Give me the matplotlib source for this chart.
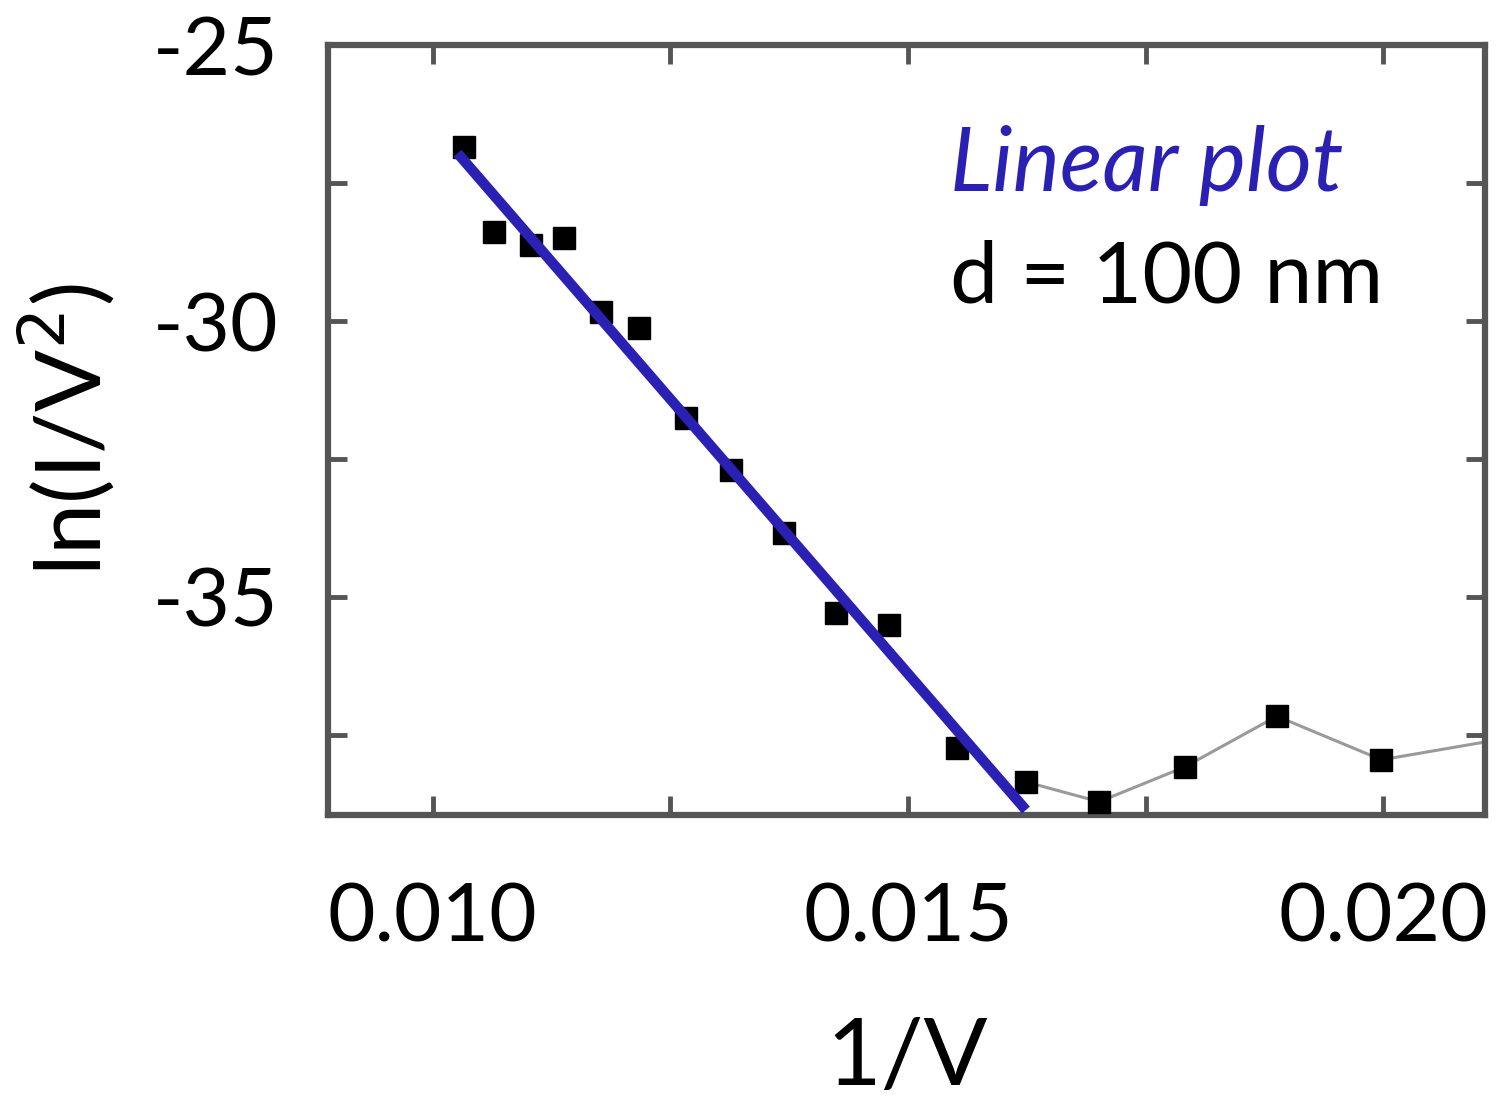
import matplotlib
matplotlib.use("Agg")
import matplotlib.pyplot as plt
from matplotlib.ticker import MultipleLocator

# data
inv_v = [0.01033, 0.01064, 0.01103, 0.01138, 0.01177, 0.01217, 0.01266, 0.01314,
         0.01369, 0.01424, 0.01480, 0.01551, 0.01624, 0.01701, 0.01791, 0.01888,
         0.01998, 0.02150]
ln_iv2 = [-26.85, -28.39, -28.62, -28.50, -29.84, -30.13, -31.76, -32.70,
          -33.84, -35.29, -35.51, -37.74, -38.35, -38.71, -38.08, -37.16,
          -37.95, -37.50]
tail_start = 12  # grey connecting line shown from here on
fit_x = [0.01026, 0.01624]
fit_y = [-26.96, -38.86]
x_ticks = [0.010, 0.015, 0.020]
x_tick_labels = ["0.010", "0.015", "0.020"]
y_ticks = [-25, -30, -35]
y_tick_labels = ["-25", "-30", "-35"]

plt.rcParams['font.family'] = ['Lato', 'DejaVu Sans']

fig = plt.figure(figsize=(14.99, 11.09), dpi=100)
ax = fig.add_axes([0.219, 0.2651, 0.7717, 0.6943])

ax.plot(inv_v[tail_start:], ln_iv2[tail_start:], color='#9a9a9a', lw=2.2, zorder=2)
ax.plot(inv_v, ln_iv2, ls='none', marker='s', ms=16.5, color='black', zorder=3)
ax.plot(fit_x, fit_y, color='#2a20b4', lw=7.5, solid_capstyle='butt', zorder=4)

ax.set_xlim(0.0089, 0.02107)
ax.set_ylim(-38.95, -25.0)

ax.set_xticks(x_ticks)
ax.set_xticklabels(x_tick_labels)
ax.set_yticks(y_ticks)
ax.set_yticklabels(y_tick_labels)
ax.xaxis.set_minor_locator(MultipleLocator(0.0025))
ax.yaxis.set_minor_locator(MultipleLocator(2.5))

ax.tick_params(which='both', direction='in', top=True, right=True,
               color='#555555', width=3.5)
ax.tick_params(which='major', length=14, labelsize=59)
ax.tick_params(which='minor', length=14)
ax.tick_params(axis='x', which='major', pad=48)
ax.tick_params(axis='y', which='major', pad=36)

for s in ax.spines.values():
    s.set_color('#555555')
    s.set_linewidth(4.5)

ax.set_xlabel('1/V', fontsize=68, labelpad=44)
ax.set_ylabel('ln(I/V$^{2}$)', fontsize=66, labelpad=26)

ax.text(0.5376, 0.844, 'Linear plot', transform=ax.transAxes, fontsize=64,
        style='italic', color='#2a20b4', va='center', ha='left')
ax.text(0.5376, 0.697, 'd = 100 nm', transform=ax.transAxes, fontsize=62,
        color='black', va='center', ha='left')

fig.savefig('out.png', dpi=100)
